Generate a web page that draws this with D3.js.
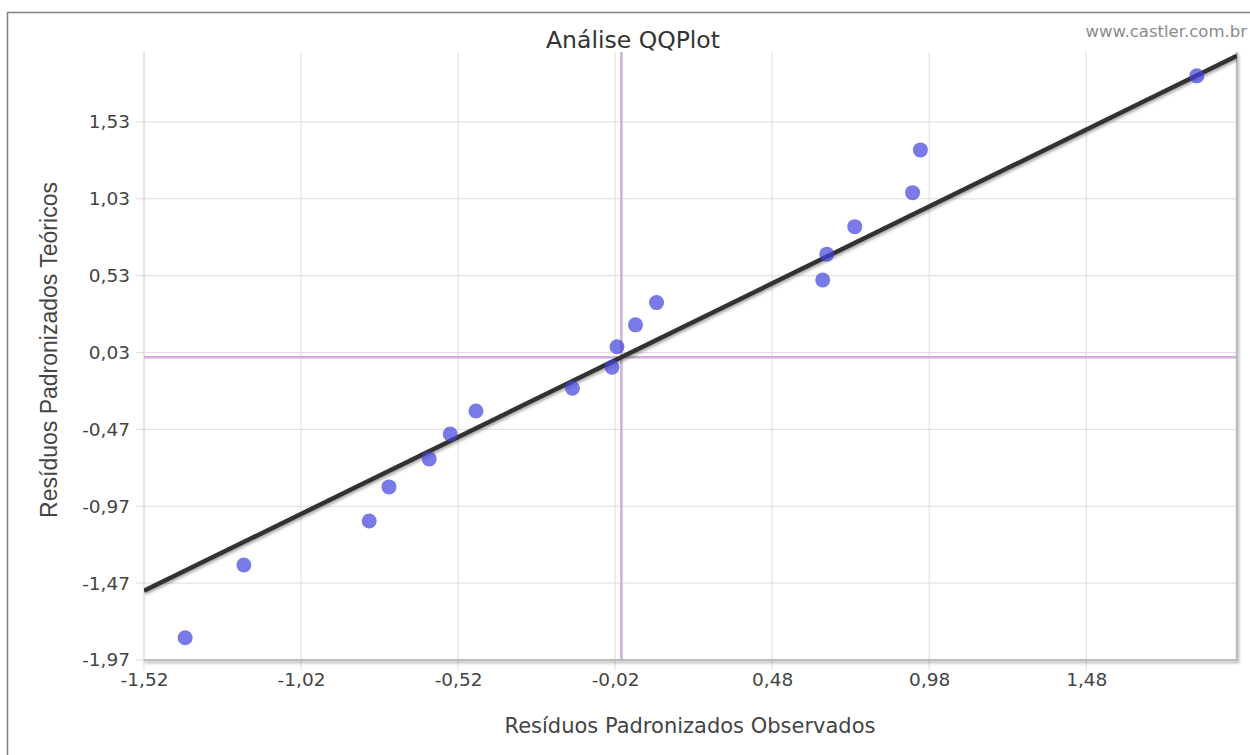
<!DOCTYPE html>
<html>
<head>
<meta charset="utf-8">
<script src="https://cdn.jsdelivr.net/npm/d3@7"></script>
<style>
  body { margin: 0; background: #fff; }
  text { font-family: "DejaVu Sans", Verdana, sans-serif; }
</style>
</head>
<body>
<svg width="1250" height="755"></svg>
<script>
// data
const observed = [-1.389, -1.202, -0.803, -0.740, -0.612, -0.545, -0.463, -0.156, -0.030,
  -0.014, 0.045, 0.112, 0.641, 0.654, 0.743, 0.927, 0.952, 1.832];
const theoretical = [-1.825, -1.352, -1.066, -0.844, -0.662, -0.500, -0.350, -0.202, -0.066,
  0.068, 0.210, 0.355, 0.502, 0.670, 0.849, 1.070, 1.348, 1.830];
const xTicks = [-1.52, -1.02, -0.52, -0.02, 0.48, 0.98, 1.48];
const yTicks = [-1.97, -1.47, -0.97, -0.47, 0.03, 0.53, 1.03, 1.53];
const refLine = [[-1.52, -1.52], [1.96, 1.96]];

const margin = { top: 52, left: 144, right: 13, bottom: 95 };
const width = 1250, height = 755;
const content_width = width - margin.left - margin.right;
const content_height = height - margin.top - margin.bottom;

const svg = d3.select("svg");

// drop shadow for line + plot edges
const defs = svg.append("defs");
const f = defs.append("filter").attr("id", "shadow")
  .attr("x", "-5%").attr("y", "-5%").attr("width", "110%").attr("height", "120%");
f.append("feDropShadow").attr("dx", 1).attr("dy", 2).attr("stdDeviation", 1.5)
  .attr("flood-color", "#000").attr("flood-opacity", 0.35);
defs.append("clipPath").attr("id", "clip")
  .append("rect").attr("width", content_width).attr("height", content_height);

// outer frame
svg.append("rect")
  .attr("x", 7.5).attr("y", 12.5)
  .attr("width", 1300).attr("height", 800)
  .attr("fill", "none").attr("stroke", "#808080").attr("stroke-width", 1.5);

const g = svg.append("g").attr("transform", `translate(${margin.left},${margin.top})`);

const x = d3.scaleLinear().domain([-1.52, 1.96]).range([0, content_width]);
const y = d3.scaleLinear().domain([-1.97, 1.985]).range([content_height, 0]);

// grid
g.append("g").selectAll("line").data(xTicks).join("line")
  .attr("x1", d => x(d)).attr("x2", d => x(d))
  .attr("y1", 0).attr("y2", content_height + 10)
  .attr("stroke", "#dcdcdc");
g.append("g").selectAll("line").data(yTicks).join("line")
  .attr("x1", -8).attr("x2", content_width)
  .attr("y1", d => y(d)).attr("y2", d => y(d))
  .attr("stroke", "#dcdcdc");

// plot edges (bottom + right) with shadow
g.append("path")
  .attr("d", `M0,${content_height}H${content_width}V0`)
  .attr("fill", "none").attr("stroke", "#bdbdbd").attr("stroke-width", 2)
  .attr("filter", "url(#shadow)");
g.append("line").attr("x1", 0).attr("x2", 0).attr("y1", 0).attr("y2", content_height)
  .attr("stroke", "#dcdcdc");

// zero lines
g.append("line")
  .attr("x1", x(0)).attr("x2", x(0)).attr("y1", 0).attr("y2", content_height)
  .attr("stroke", "#cfb0d8").attr("stroke-width", 2.5);
g.append("line")
  .attr("x1", 0).attr("x2", content_width).attr("y1", y(0)).attr("y2", y(0))
  .attr("stroke", "#cfb0d8").attr("stroke-width", 2.5);

// axes labels (ticks)
const fmt = d => d3.format(".2f")(d).replace(".", ",").replace("−", "-");
const bottomAxis = d3.axisBottom(x).tickValues(xTicks).tickSize(0).tickPadding(13)
  .tickFormat(fmt);
g.append("g").attr("class", "bottom axis")
  .attr("transform", `translate(0,${content_height})`)
  .call(bottomAxis)
  .call(s => s.select(".domain").remove())
  .selectAll("text").attr("font-size", "18.5px").attr("fill", "#444")
  .attr("font-family", "DejaVu Sans");

const leftAxis = d3.axisLeft(y).tickValues(yTicks).tickSize(0).tickPadding(14)
  .tickFormat(fmt);
g.append("g").attr("class", "left axis")
  .call(leftAxis)
  .call(s => s.select(".domain").remove())
  .selectAll("text").attr("font-size", "18.5px").attr("fill", "#444")
  .attr("font-family", "DejaVu Sans");

// reference line y = x
g.append("path")
  .datum(refLine)
  .attr("clip-path", "url(#clip)")
  .attr("d", d3.line().x(d => x(d[0])).y(d => y(d[1])))
  .attr("stroke", "#333").attr("stroke-width", 4.5).attr("fill", "none")
  .attr("filter", "url(#shadow)");

// points
g.append("g").selectAll("circle").data(observed).join("circle")
  .attr("cx", d => x(d))
  .attr("cy", (d, i) => y(theoretical[i]))
  .attr("r", 7.5)
  .attr("fill", "#4040dd").attr("fill-opacity", 0.7);

// title
svg.append("text")
  .attr("x", 633).attr("y", 48)
  .attr("text-anchor", "middle")
  .attr("font-size", "23.5px").attr("fill", "#333")
  .text("Análise QQPlot");

// watermark
svg.append("text")
  .attr("x", 1247).attr("y", 37)
  .attr("text-anchor", "end")
  .attr("font-size", "16.5px").attr("fill", "#8a8a8a")
  .text("www.castler.com.br");

// x axis-label
svg.append("text")
  .attr("x", 690).attr("y", 733)
  .attr("text-anchor", "middle")
  .attr("font-size", "21px").attr("fill", "#444")
  .text("Resíduos Padronizados Observados");

// y axis-label
svg.append("text")
  .attr("transform", "translate(57,350) rotate(-90)")
  .attr("text-anchor", "middle")
  .attr("font-size", "23px").attr("fill", "#444")
  .style("font-family", "Liberation Sans, Arial, sans-serif")
  .text("Resíduos Padronizados Teóricos");
</script>
</body>
</html>
